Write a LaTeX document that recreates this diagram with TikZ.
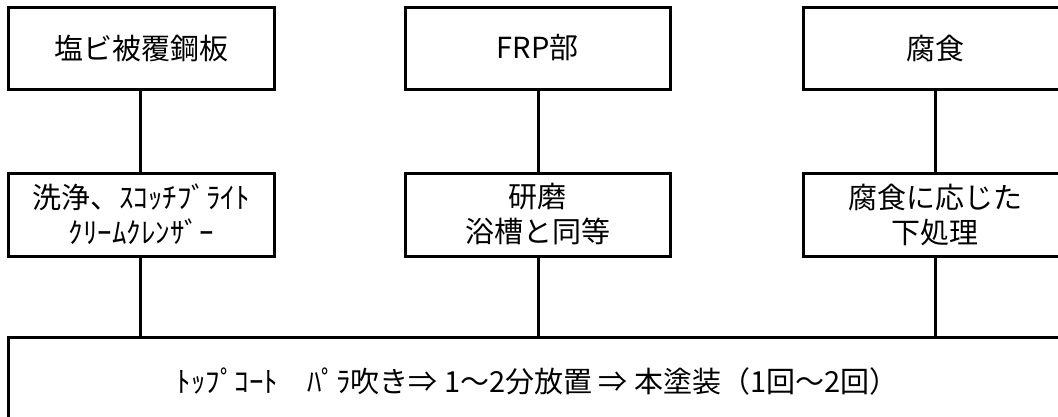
\documentclass[tikz,border=0pt]{standalone}
\usepackage{fontspec}
\setmainfont{Noto Sans CJK JP}
\begin{document}
\begin{tikzpicture}[x=1pt,y=-1pt,
  box/.style={draw=black,line width=3pt,inner sep=0pt,align=center,
    font=\fontsize{29}{35}\selectfont},
  link/.style={draw=black,line width=3pt}]
\useasboundingbox (0,0) rectangle (1058,416);
\fill[white] (0,0) rectangle (1058,416);
\clip (0,0) rectangle (1058,416);
% top row
\node[box,minimum width=266pt,minimum height=82pt] (t1) at (141,48) {塩ビ被覆鋼板};
\node[box,minimum width=265pt,minimum height=82pt] (t2) at (537.5,48) {FRP部};
\node[box,minimum width=264pt,minimum height=82pt] (t3) at (935,48) {腐食};
% middle row
\node[box,minimum width=266pt,minimum height=83pt] (m1) at (141,214.5) {洗浄、ｽｺｯﾁﾌﾞﾗｲﾄ\\ｸﾘｰﾑｸﾚﾝｻﾞｰ};
\node[box,minimum width=265pt,minimum height=83pt] (m2) at (537.5,214.5) {研磨\\浴槽と同等};
\node[box,minimum width=264pt,minimum height=83pt] (m3) at (935,214.5) {腐食に応じた\\下処理};
% bottom
\node[box,minimum width=1059pt,minimum height=88pt] (b) at (537.5,381) {ﾄｯﾌﾟｺｰﾄ　ﾊﾟﾗ吹き⇒ 1～2分放置 ⇒ 本塗装（1回～2回）};
% connectors
\path[link] (t1.south -| 140,0) -- (m1.north -| 140,0);
\path[link] (t2.south -| 538,0) -- (m2.north -| 538,0);
\path[link] (t3.south -| 935,0) -- (m3.north -| 935,0);
\path[link] (m1.south -| 140,0) -- (b.north -| 140,0);
\path[link] (m2.south -| 538,0) -- (b.north -| 538,0);
\path[link] (m3.south -| 935,0) -- (b.north -| 935,0);
\end{tikzpicture}
\end{document}
